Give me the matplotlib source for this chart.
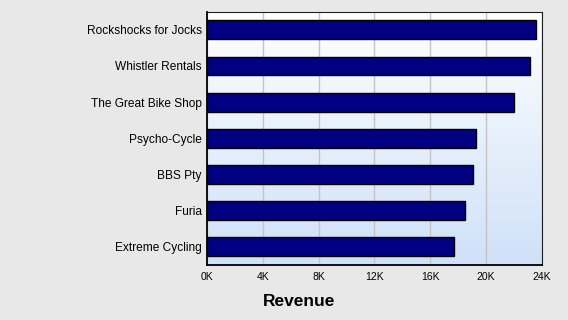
import matplotlib
matplotlib.use("Agg")
import matplotlib.pyplot as plt
import numpy as np
from matplotlib.colors import LinearSegmentedColormap

categories = ["Rockshocks for Jocks", "Whistler Rentals", "The Great Bike Shop",
              "Psycho-Cycle", "BBS Pty", "Furia", "Extreme Cycling"]
revenue = [23570, 23190, 22000, 19270, 19050, 18480, 17730]
xticks = [0, 4000, 8000, 12000, 16000, 20000, 24000]
xticklabels = ["0K", "4K", "8K", "12K", "16K", "20K", "24K"]

plt.rcParams['font.family'] = ['Liberation Sans', 'DejaVu Sans']

fig = plt.figure(figsize=(5.68, 3.2), dpi=100)
fig.patch.set_facecolor("#e8e8e8")
ax = fig.add_axes([207.3/568, 1-265/320, (541.5-207.3)/568, (265-11.7)/320])

n = len(categories)
y = np.arange(n)[::-1]

# gradient background
cmap = LinearSegmentedColormap.from_list("bg", ["#ffffff", "#cfe1f8"])
grad = np.linspace(0, 1, 256).reshape(-1, 1)
ax.imshow(grad, cmap=cmap, aspect="auto", extent=[0, 24000, -0.5, n-0.5],
          origin="upper", zorder=0)

ax.barh(y, revenue, height=0.52, color="#000080", edgecolor="black", linewidth=1.0, zorder=3)

ax.set_xlim(0, 24000)
ax.set_ylim(-0.5, n-0.5)
ax.set_xticks(xticks)
ax.set_xticklabels(xticklabels, fontsize=7.5)
ax.set_yticks(y)
ax.set_yticklabels(categories, fontsize=8.6)
ax.tick_params(axis="both", length=0, colors="black")
ax.tick_params(axis="y", pad=4)
ax.tick_params(axis="x", pad=5)
ax.grid(axis="x", color="#c4c4c4", linewidth=1.0, zorder=1)
ax.set_axisbelow(True)
for s in ["left", "bottom"]:
    ax.spines[s].set_linewidth(1.3)
    ax.spines[s].set_color("black")
for s in ["top", "right"]:
    ax.spines[s].set_linewidth(0.8)
    ax.spines[s].set_color("#202020")

fig.text(299/568, 1-301.5/320, "Revenue", ha="center", va="center",
         fontsize=12.5, fontweight="bold")

fig.savefig("out.png", dpi=100, facecolor=fig.get_facecolor())
